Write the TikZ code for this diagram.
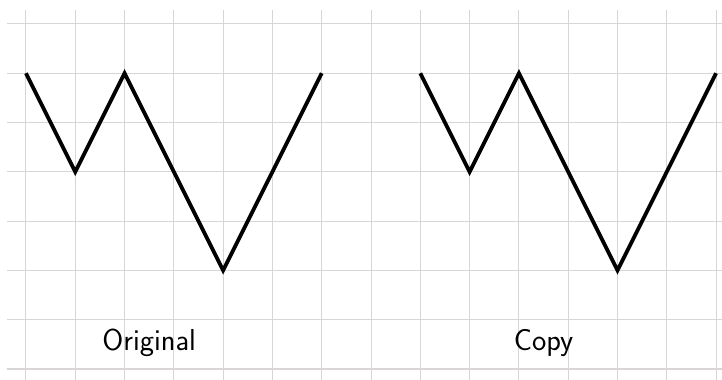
\documentclass[tikz,border=0pt]{standalone}
\usetikzlibrary{positioning}
\definecolor{gridgray}{RGB}{218,213,213}
\begin{document}
\begin{tikzpicture}[
    gridline/.style={draw=gridgray, line width=0.6pt},
    zigzag/.style={draw=black, line width=2.2pt},
    every node/.style={
        font=\sffamily\fontsize{17.5}{20}\selectfont
    }
]
\useasboundingbox (-0.527,-0.223) rectangle (14.12,7.486);
% squared paper
\foreach \x in {0,...,14}
    \draw[gridline] (\x,-0.3) -- (\x,7.28);
\foreach \y in {0,...,7}
    \draw[gridline] (-0.385,\y) -- (14.2,\y);
% the two figures
\foreach \s/\n/\t in {0/orig/Original,8/copy/Copy}{
    \coordinate (\n-a) at (\s,6);
    \coordinate (\n-b) at (\s+1,4);
    \coordinate (\n-c) at (\s+2,6);
    \coordinate (\n-d) at (\s+4,2);
    \coordinate (\n-e) at (\s+6,6);
    \draw[zigzag] (\n-a) -- (\n-b) -- (\n-c) -- (\n-d) -- (\n-e);
    \node (\n-label) at (\s+2.5,0.53) {\t};
}
\end{tikzpicture}
\end{document}
